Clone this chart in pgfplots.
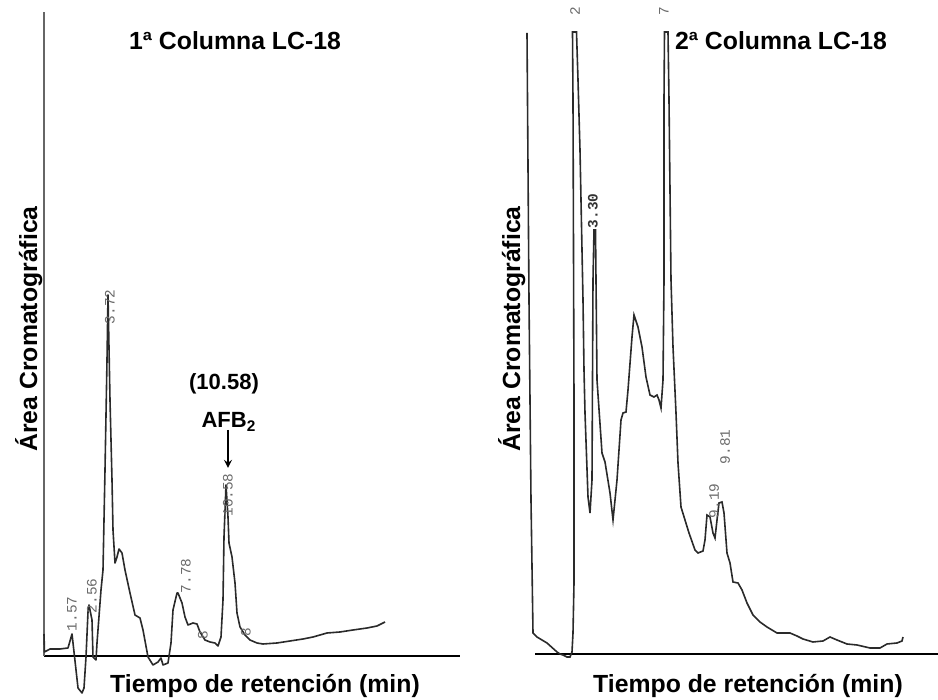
\documentclass[border=0pt]{standalone}
\usepackage{fontspec}
\setmainfont{Liberation Sans}
\newfontfamily\pkfont{Liberation Mono}
\usepackage{pgfplots}
\pgfplotsset{compat=1.18}
\definecolor{trace}{HTML}{2A2A2A}
\definecolor{pklab}{HTML}{6A6A6A}
\begin{document}
\begin{tikzpicture}
\useasboundingbox (0,0) rectangle (469pt,350pt);
\tikzset{lab/.style={font=\fontsize{12.4}{14}\selectfont\bfseries, inner sep=0pt},
         pk/.style={font=\pkfont\fontsize{7.2}{8}\selectfont, text=pklab, rotate=90, inner sep=0pt}}
% ---------------- left panel ----------------
\begin{axis}[at={(22pt,22pt)}, anchor=south west, x=0.5pt, y=0.5pt,
  xmin=44, xmax=460, ymin=44, ymax=688,
  axis x line=bottom, axis y line=left, axis line style={-},
  x axis line style={black, line width=1pt},
  y axis line style={black!60, line width=0.9pt},
  xtick=\empty, ytick=\empty, clip=false]
\addplot[trace, line width=0.8pt, line join=round] coordinates {
(44,66) (44.5,48) (50,51) (60,51) (68,52) (72,66) (73,57) (76,30) (78,12)
(82,7) (84,12) (86,43) (88,88) (89,95) (92,80) (93,43) (96,40) (97,57)
(101,110) (103,130) (105,230) (107,340) (108,405) (110,300) (112,220)
(113,170) (115,137) (117,143) (119,151) (122,147) (125,130) (130,107)
(135,85) (140,82) (143,70) (148,43) (153,35) (158,38) (161,42) (163,35)
(168,37) (171,57) (173,90) (177,107) (178,107) (182,97) (185,83) (188,75)
(193,77) (197,76) (200,68) (205,60) (210,58) (215,57) (218,54) (221,63)
(223,100) (224,163) (226,215) (228,183) (229,157) (232,143) (235,117)
(237,87) (240,73) (245,65) (250,60) (257,57) (263,56) (277,57) (290,59)
(303,61) (313,63) (327,67) (340,68) (353,70) (367,72) (377,74) (385,78)
};
\node[pk] at (axis cs:72,86) {1.57};
\node[pk] at (axis cs:92,104) {2.56};
\node[pk] at (axis cs:110,393) {3.72};
\node[pk] at (axis cs:186,124) {7.78};
\node[pk] at (axis cs:228,205) {10.58};
\node[pk] at (axis cs:203,65) {8};
\node[pk] at (axis cs:246,68) {8};
\node[lab, anchor=base] at (axis cs:235,650) {1ª Columna LC-18};
\node[lab, anchor=base] at (axis cs:265,7) {Tiempo de retención (min)};
\node[lab, anchor=base, rotate=90] at (axis cs:37,371) {Área Cromatográfica};
\node[font=\fontsize{11}{13}\selectfont\bfseries, inner sep=0pt, anchor=base] at (axis cs:224,310) {(10.58)};
\node[font=\fontsize{11}{13}\selectfont\bfseries, inner sep=0pt, anchor=base] at (axis cs:229,272) {AFB\textsubscript{2}};
\draw[-stealth, line width=0.8pt] (axis cs:228,270) -- (axis cs:228,232);
\end{axis}
% ---------------- right panel ----------------
\begin{axis}[at={(267.5pt,23pt)}, anchor=south west, x=0.5pt, y=0.5pt,
  xmin=535, xmax=938, ymin=46, ymax=690,
  axis x line=bottom, axis y line=none, axis line style={-},
  x axis line style={black, line width=1pt},
  xtick=\empty, ytick=\empty, clip=false]
\addplot[trace, line width=0.8pt, line join=miter] coordinates {
(527,667) (529,400) (531,200) (533,67) (537,63) (547,57) (557,48) (560,46)
(563,45) (567,43) (570,43) (572,48) (573,67) (574,117) (574,300) (573,600)
(572.5,668) (576.5,668) (578,620) (580,550) (583,400) (584,330) (585,287)
(588,203) (590,187) (592,220) (593,420) (594,470) (595.5,470) (596,420)
(597,320) (602,247) (605,238) (610,207) (613,180) (617,220) (621,280)
(623,287) (626,288) (628,310) (632,363) (634,385) (638,373) (642,353)
(646,323) (650,305) (654,303) (657,305) (659,300) (661,292) (663,320)
(664,420) (664,600) (664.5,668) (668,668) (669,600) (671,420) (673,353) (676,287)
(678,237) (681,193) (685,180) (689,167) (695,150) (698,147) (703,149)
(705,160) (707,185) (710,183) (713,167) (715,162) (717,180) (719,197)
(722,198) (724,187) (727,147) (730,137) (733,118) (738,117) (742,110)
(747,97) (753,85) (760,78) (767,73) (777,67) (787,67) (790,67) (797,64)
(803,61) (813,58) (823,59) (830,63) (837,60) (847,56) (857,55) (870,52)
(880,52) (887,56) (897,57) (902,59) (903,63)
};
\node[pk] at (axis cs:575,689) {2};
\node[pk] at (axis cs:664,689) {7};
\node[pk, text=black!80] at (axis cs:593,489) {\bfseries 3.30};
\node[pk] at (axis cs:714,199) {9.19};
\node[pk] at (axis cs:725,253) {9.81};
\node[lab, anchor=base] at (axis cs:781,650) {2ª Columna LC-18};
\node[lab, anchor=base] at (axis cs:748,7) {Tiempo de retención (min)};
\node[lab, anchor=base, rotate=90] at (axis cs:520,371) {Área Cromatográfica};
\end{axis}
\end{tikzpicture}
\end{document}
